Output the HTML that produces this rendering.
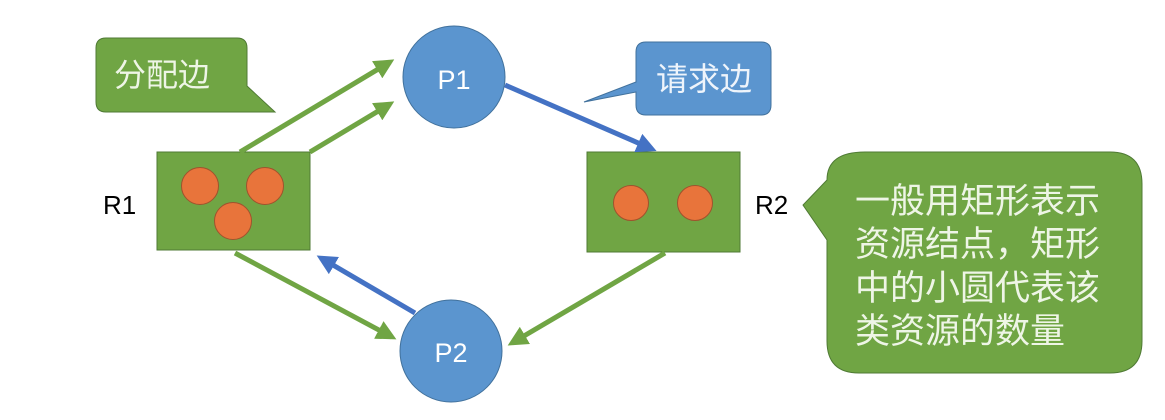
<!DOCTYPE html>
<html><head><meta charset="utf-8"><style>
html,body{margin:0;padding:0;background:#fff;}
svg{display:block}
text{font-family:"Liberation Sans","Noto Sans CJK SC",sans-serif;}
</style></head><body>
<svg width="1165" height="420" viewBox="0 0 1165 420" xmlns="http://www.w3.org/2000/svg">
<defs>
<marker id="g" markerWidth="4" markerHeight="4" refX="3" refY="2" orient="auto" markerUnits="strokeWidth"><path d="M0,0 L4,2 L0,4 z" fill="#70a544"/></marker>
<marker id="b" markerWidth="4" markerHeight="4" refX="3" refY="2" orient="auto" markerUnits="strokeWidth"><path d="M0,0 L4,2 L0,4 z" fill="#4472c4"/></marker>
</defs>
<path d="M106,38 H237 Q247,38 247,48 V86 L275,112 L240,112 H106 Q96,112 96,102 V48 Q96,38 106,38 Z" fill="#70a544" stroke="#4f7a34" stroke-width="1"/>
<text x="114" y="86" font-size="32" fill="#eef5e6">分配边</text>
<path d="M646,42 H761 Q771,42 771,52 V105 Q771,115 761,115 H646 Q636,115 636,105 V92 L584,102 L636,82 V52 Q636,42 646,42 Z" fill="#5b95cf" stroke="#41719c" stroke-width="1"/>
<text x="656" y="90" font-size="32" fill="#eef4fb">请求边</text>
<path d="M865,152 H1110 Q1142,152 1142,184 V341 Q1142,373 1110,373 H859 Q827,373 827,341 V240 L803,205 L827,180 Q827,152 865,152 Z" fill="#70a544" stroke="#4f7a34" stroke-width="1"/>
<g font-size="35" fill="#eef5e6">
<text x="855" y="213">一般用矩形表示</text>
<text x="855" y="256">资源结点，矩形</text>
<text x="855" y="300">中的小圆代表该</text>
<text x="855" y="343">类资源的数量</text>
</g>
<rect x="157" y="152" width="153" height="98" fill="#70a544" stroke="#4f7a34"/>
<circle cx="200" cy="186" r="18.5" fill="#e8743b" stroke="#a0522d"/>
<circle cx="265" cy="186" r="18.5" fill="#e8743b" stroke="#a0522d"/>
<circle cx="233" cy="221" r="18.5" fill="#e8743b" stroke="#a0522d"/>
<text x="103" y="214" font-size="26" fill="#000">R1</text>
<rect x="587" y="152" width="153" height="100" fill="#70a544" stroke="#4f7a34"/>
<circle cx="631" cy="203" r="17.5" fill="#e8743b" stroke="#a0522d"/>
<circle cx="695" cy="203" r="17.5" fill="#e8743b" stroke="#a0522d"/>
<text x="755" y="214" font-size="26" fill="#000">R2</text>
<line x1="240" y1="152" x2="390" y2="62" stroke="#70a544" stroke-width="5" marker-end="url(#g)"/>
<line x1="310" y1="152" x2="390" y2="104" stroke="#70a544" stroke-width="5" marker-end="url(#g)"/>
<line x1="505" y1="85" x2="652" y2="149" stroke="#4472c4" stroke-width="5" marker-end="url(#b)"/>
<line x1="235" y1="253" x2="392" y2="337" stroke="#70a544" stroke-width="5" marker-end="url(#g)"/>
<line x1="415" y1="313" x2="321" y2="258" stroke="#4472c4" stroke-width="5" marker-end="url(#b)"/>
<line x1="665" y1="253" x2="512" y2="343" stroke="#70a544" stroke-width="5" marker-end="url(#g)"/>
<circle cx="454" cy="77" r="51" fill="#5b95cf" stroke="#41719c"/>
<text x="454" y="89" font-size="27" fill="#fff" text-anchor="middle">P1</text>
<circle cx="451" cy="351" r="51" fill="#5b95cf" stroke="#41719c"/>
<text x="451" y="362" font-size="27" fill="#fff" text-anchor="middle">P2</text>
</svg>
</body></html>
